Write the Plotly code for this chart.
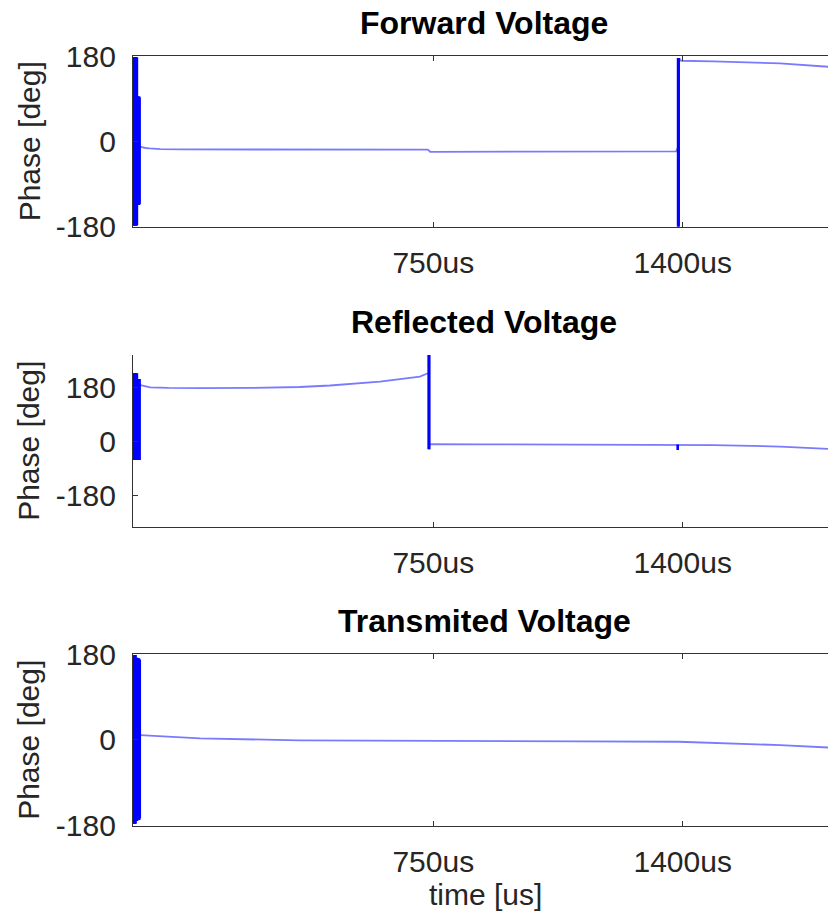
import plotly.graph_objects as go

W, H = 828, 915

# ---------------- data ----------------
titles = ["Forward Voltage", "Reflected Voltage", "Transmited Voltage"]
y_label = "Phase [deg]"
x_label = "time [us]"
x_tick_vals = [750, 1400]
x_tick_text = ["750us", "1400us"]
y_tick_vals = [-180, 0, 180]
y_tick_text = ["-180", "0", "180"]

# Forward voltage: smooth phase trace (before and after the wrap near 1400us)
fwd_t = [-15, -10, 0, 11, 38, 100, 300, 500, 700, 736, 742, 900, 1100, 1300, 1383, 1387]
fwd_ph = [-11, -12.5, -14, -15, -16.5, -17, -17, -17, -17, -17.5, -22, -22, -22.5, -22.5, -21, -14]
fwd2_t = [1391, 1396, 1480, 1560, 1654, 1779, 1810]
fwd2_ph = [175, 170, 168.7, 167, 164.5, 157.3, 155]
# Forward voltage: dense phase-wrap bursts (time, low, high)
fwd_burst_t = [-32, -30, -28, -26, -24, -22.5, -21, -19, -17, -15.5, 1388, 1389.5]
fwd_burst_lo = [-178, -178, -177, -178, -178, -177, -134, -133, -134, -132, -180, -180]
fwd_burst_hi = [178, 178, 177, 178, 178, 177, 95, 94, 95, 93, 176, 176]

# Reflected voltage
ref_t = [-16, 0, 12, 60, 142, 272, 402, 481, 611, 663, 715, 736]
ref_ph = [190, 186, 182, 180, 179, 180, 183, 188, 201, 209, 218, 229]
ref2_t = [742, 744, 872, 1100, 1300, 1385, 1391, 1480, 1654, 1779, 1810]
ref2_ph = [-10, -8, -8.5, -9, -10, -10.5, -10.5, -11, -16, -24, -26]
ref_burst_t = [-32, -30, -28, -26, -24, -22.5, -21, -19, -17, -15.5, 738, 739.5, 1387]
ref_burst_lo = [-61, -61, -61, -61, -61, -61, -61, -61, -61, -61, -25, -25, -28]
ref_burst_hi = [229, 229, 229, 229, 229, 229, 210, 210, 210, 210, 290, 290, -9]

# Transmitted voltage
trn_t = [-14, -1, 38, 142, 400, 611, 870, 1130, 1390, 1480, 1560, 1654, 1779, 1810]
trn_ph = [10, 9.5, 7, 3, -1, -2, -2.5, -3, -4, -6, -8, -11, -16, -17]
trn_burst_t = [-32, -30, -28, -26, -24, -22, -20, -18, -16.5, -15]
trn_burst_lo = [-176, -176, -176, -176, -170, -170, -168, -168, -168, -165]
trn_burst_hi = [178, 178, 178, 178, 172, 172, 171, 171, 170, 168]

x_range = [-32.6, 1778.7]
y_ranges = [[-180, 180], [-284, 290], [-180, 180]]

# ---------------- layout geometry (pixels) ----------------
plot_left = 133
boxes = [(56, 226.7), (355, 526.7), (654, 825.7)]  # top, bottom in px

LIGHT = "#7a7aff"
BLUE = "#0000ff"
AXC = "#333333"
TXT = "#262626"
FONT = "Liberation Sans, Arial, Helvetica, sans-serif"


def seg(ts, lo, hi):
    xs, ys = [], []
    for t, a, b in zip(ts, lo, hi):
        xs += [t, t, None]
        ys += [a, b, None]
    return xs, ys


fig = go.Figure()
series = [
    ([(fwd_t, fwd_ph), (fwd2_t, fwd2_ph)], (fwd_burst_t, fwd_burst_lo, fwd_burst_hi)),
    ([(ref_t, ref_ph), (ref2_t, ref2_ph)], (ref_burst_t, ref_burst_lo, ref_burst_hi)),
    ([(trn_t, trn_ph)], (trn_burst_t, trn_burst_lo, trn_burst_hi)),
]
for i, (lines, burst) in enumerate(series):
    xa = "x" if i == 0 else f"x{i+1}"
    ya = "y" if i == 0 else f"y{i+1}"
    for (tx, py) in lines:
        fig.add_trace(go.Scatter(x=tx, y=py, mode="lines", xaxis=xa, yaxis=ya,
                                 line=dict(color=LIGHT, width=1.8), showlegend=False,
                                 hoverinfo="skip"))
    bx, by = seg(*burst)
    fig.add_trace(go.Scatter(x=bx, y=by, mode="lines", xaxis=xa, yaxis=ya,
                             line=dict(color=BLUE, width=2.6), showlegend=False,
                             hoverinfo="skip"))

layout = dict(width=W, height=H, margin=dict(l=0, r=0, t=0, b=0, pad=0, autoexpand=False),
              paper_bgcolor="white", plot_bgcolor="white", showlegend=False,
              font=dict(family=FONT, color=TXT, size=30))
annotations = []
for i, (top, bot) in enumerate(boxes):
    sfx = "" if i == 0 else str(i + 1)
    dom_y = [1 - bot / H, 1 - top / H]
    layout["xaxis" + sfx] = dict(
        domain=[plot_left / W, 1.0], range=x_range, anchor="y" + sfx,
        tickvals=x_tick_vals, ticktext=x_tick_text, ticks="inside", ticklen=5,
        tickcolor=AXC, tickwidth=1, showline=True, linecolor=AXC, linewidth=1.2,
        mirror="ticks" if i != 1 else False, showgrid=False, zeroline=False,
        automargin=False,
        tickfont=dict(size=30, color=TXT, family=FONT), ticklabelstandoff=9)
    layout["yaxis" + sfx] = dict(
        domain=dom_y, range=y_ranges[i], anchor="x" + sfx,
        tickvals=y_tick_vals, ticktext=y_tick_text, ticks="inside", ticklen=5,
        tickcolor=AXC, tickwidth=1, showline=True, linecolor=AXC, linewidth=1.2,
        mirror=False, showgrid=False, zeroline=False, automargin=False,
        tickfont=dict(size=30, color=TXT, family=FONT), ticklabelstandoff=10)
    annotations.append(dict(text="<b>" + titles[i] + "</b>", xref="paper", yref="paper",
                            x=484 / W, y=1 - (top - 33) / H, xanchor="center", yanchor="middle",
                            showarrow=False, font=dict(size=32, color="black", family=FONT)))
    annotations.append(dict(text=y_label, xref="paper", yref="paper", textangle=-90,
                            x=29 / W, y=1 - ((top + bot) / 2) / H, xanchor="center",
                            yanchor="middle", showarrow=False,
                            font=dict(size=30, color=TXT, family=FONT)))
annotations.append(dict(text=x_label, xref="paper", yref="paper", x=485 / W, y=1 - 894 / H,
                        xanchor="center", yanchor="middle", showarrow=False,
                        font=dict(size=30, color=TXT, family=FONT)))
layout["annotations"] = annotations
fig.update_layout(**layout)
fig.write_html("out.html")
